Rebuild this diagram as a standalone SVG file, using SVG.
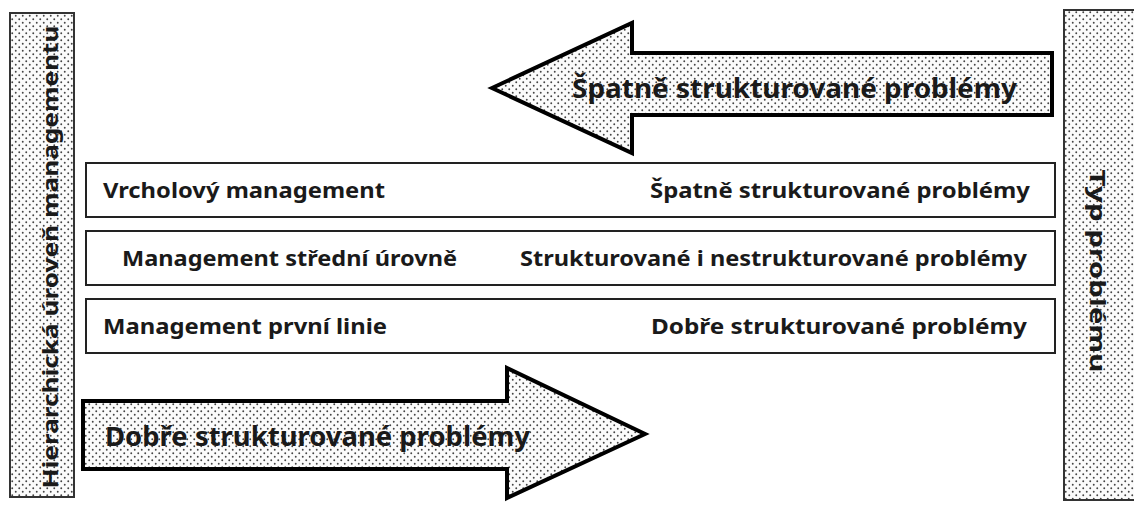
<svg xmlns="http://www.w3.org/2000/svg" width="1134" height="508" viewBox="0 0 1134 508">
<style>
.t{font-family:"Noto Sans","Open Sans","DejaVu Sans",sans-serif;font-weight:bold;fill:#1a1a1a}
.row{fill:#fff;stroke:#222;stroke-width:2}
.bar{fill:url(#dots);stroke:#333;stroke-width:2}
.arr{fill:url(#dots);stroke:#000;stroke-width:4;stroke-linejoin:miter}
</style>
<defs>
<pattern id="dots" width="7" height="7" patternUnits="userSpaceOnUse">
<rect width="7" height="7" fill="#fbfbfb"/>
<circle cx="1.75" cy="1.75" r="0.95" fill="#444"/>
<circle cx="5.25" cy="5.25" r="0.95" fill="#444"/>
</pattern>
</defs>
<rect width="1134" height="508" fill="#fff"/>
<g id="bar-left">
<rect class="bar" x="10" y="13" width="64" height="484"/>
<text class="t" font-size="22" transform="translate(58,257) rotate(-90)" text-anchor="middle" textLength="463" lengthAdjust="spacingAndGlyphs">Hierarchická úroveň managementu</text>
</g>
<g id="bar-right">
<rect class="bar" x="1064" y="10" width="80" height="490"/>
<text class="t" font-size="22" transform="translate(1090,271) rotate(90)" text-anchor="middle" textLength="203" lengthAdjust="spacingAndGlyphs">Typ problému</text>
</g>
<g id="arrow-top">
<polygon class="arr" points="492,88 632,23 632,53 1052,53 1052,115 632,115 632,153"/>
<text class="t" font-size="27" x="572" y="98" textLength="445" lengthAdjust="spacingAndGlyphs">Špatně strukturované problémy</text>
</g>
<g id="row1">
<rect class="row" x="86" y="163" width="969" height="54"/>
<text class="t" font-size="21" x="103" y="198" textLength="282" lengthAdjust="spacingAndGlyphs">Vrcholový management</text>
<text class="t" font-size="21" x="1030" y="198" text-anchor="end" textLength="380" lengthAdjust="spacingAndGlyphs">Špatně strukturované problémy</text>
</g>
<g id="row2">
<rect class="row" x="86" y="231" width="969" height="54"/>
<text class="t" font-size="21" x="122" y="266" textLength="335" lengthAdjust="spacingAndGlyphs">Management střední úrovně</text>
<text class="t" font-size="21" x="1027" y="266" text-anchor="end" textLength="507" lengthAdjust="spacingAndGlyphs">Strukturované i nestrukturované problémy</text>
</g>
<g id="row3">
<rect class="row" x="86" y="299" width="969" height="54"/>
<text class="t" font-size="21" x="103" y="334" textLength="284" lengthAdjust="spacingAndGlyphs">Management první linie</text>
<text class="t" font-size="21" x="1027" y="334" text-anchor="end" textLength="376" lengthAdjust="spacingAndGlyphs">Dobře strukturované problémy</text>
</g>
<g id="arrow-bottom">
<polygon class="arr" points="83,401 507,401 507,368 645,434 507,498 507,469 83,469"/>
<text class="t" font-size="27" x="105" y="446" textLength="425" lengthAdjust="spacingAndGlyphs">Dobře strukturované problémy</text>
</g>
<g id="connectors"></g>
</svg>
